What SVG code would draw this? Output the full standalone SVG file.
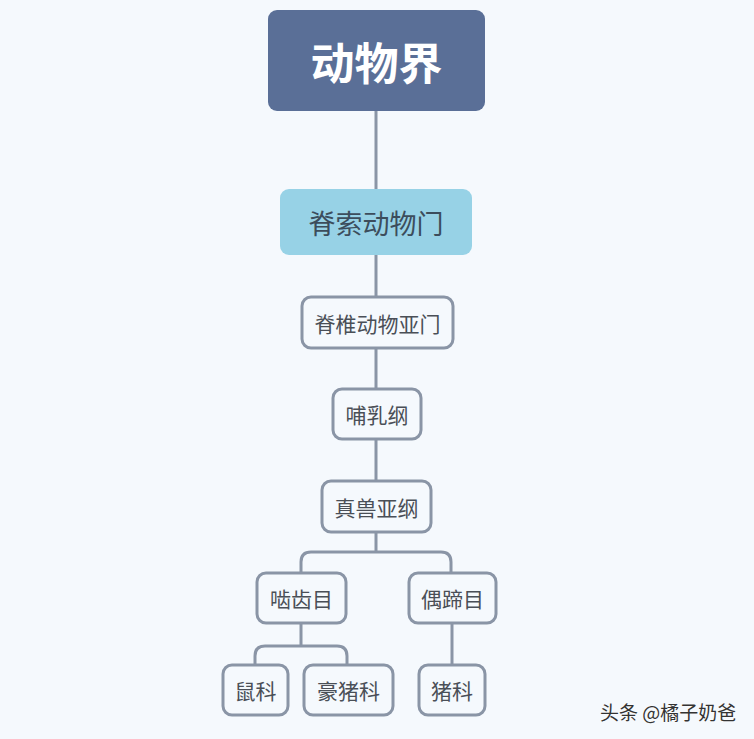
<svg xmlns="http://www.w3.org/2000/svg" width="754" height="739" viewBox="0 0 754 739">
<style>
.t{font-family:"Noto Sans CJK SC","Noto Sans",sans-serif;text-anchor:middle;dominant-baseline:central}
.box{fill:#f5f9fd;stroke:#8a95a6;stroke-width:3}
.lbl{font-size:21px;fill:#4a4f57}
.c{fill:none;stroke:#8a95a6;stroke-width:3}
</style>
<rect width="754" height="739" fill="#f5f9fd"/>
<g id="connectors">
<path class="c" d="M376 111V189M376 255V297M376 348V389M376 439V481"/>
<path class="c" d="M376 532V552H311Q301 552 301 562V573M376 552H441Q451 552 451 562V573"/>
<path class="c" d="M301 623V646H265Q255 646 255 656V665M301 646H337Q347 646 347 656V665"/>
<path class="c" d="M452 623V665"/>
</g>
<g id="n_root"><rect x="268" y="10" width="217" height="101" rx="9" fill="#5a6f97"/><text class="t" x="376.5" y="61" font-size="44" font-weight="bold" fill="#ffffff">动物界</text></g>
<g id="n_chordata"><rect x="280" y="189" width="192" height="66" rx="9" fill="#97d2e6"/><text class="t" x="376" y="222" font-size="27" fill="#3c4d5c">脊索动物门</text></g>
<g id="n_vertebrata"><rect class="box" x="302" y="297" width="151" height="51" rx="9"/><text class="t lbl" x="377.5" y="322.5">脊椎动物亚门</text></g>
<g id="n_mammalia"><rect class="box" x="333" y="389" width="88" height="50" rx="9"/><text class="t lbl" x="377" y="414">哺乳纲</text></g>
<g id="n_eutheria"><rect class="box" x="322" y="481" width="109" height="51" rx="9"/><text class="t lbl" x="376.5" y="506.5">真兽亚纲</text></g>
<g id="n_rodentia"><rect class="box" x="257" y="573" width="89" height="50" rx="9"/><text class="t lbl" x="301.5" y="598">啮齿目</text></g>
<g id="n_artiodactyla"><rect class="box" x="409" y="573" width="87" height="50" rx="9"/><text class="t lbl" x="452.5" y="598">偶蹄目</text></g>
<g id="n_muridae"><rect class="box" x="223" y="665" width="65" height="50" rx="9"/><text class="t lbl" x="255.5" y="690">鼠科</text></g>
<g id="n_hystricidae"><rect class="box" x="304" y="665" width="89" height="50" rx="9"/><text class="t lbl" x="348.5" y="690">豪猪科</text></g>
<g id="n_suidae"><rect class="box" x="419" y="665" width="66" height="50" rx="9"/><text class="t lbl" x="452" y="690">猪科</text></g>
<text x="600" y="720" font-family="Noto Sans CJK SC,sans-serif" font-size="19" fill="#333333" stroke="#ffffff" stroke-width="0.6" paint-order="stroke">头条 @橘子奶爸</text>
</svg>
